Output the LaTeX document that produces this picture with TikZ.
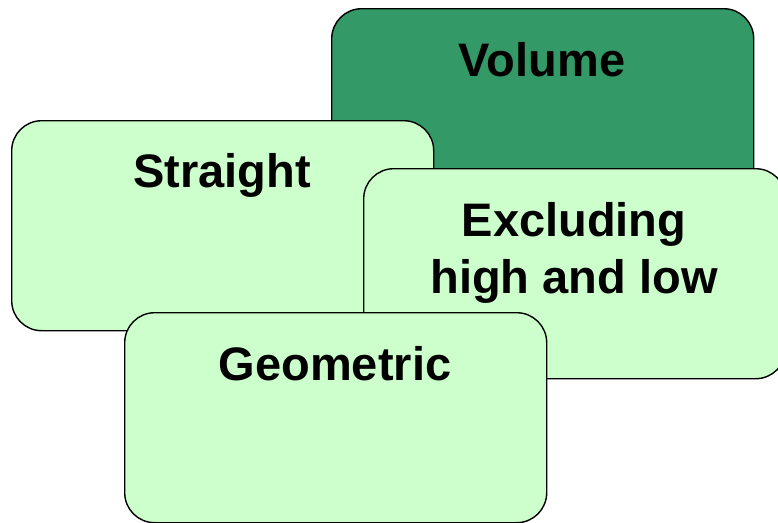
\documentclass[tikz,border=0pt]{standalone}
\usepackage{fontspec}
\setmainfont{Liberation Sans}
\definecolor{darkg}{HTML}{339966}
\definecolor{lightg}{HTML}{CCFFCC}
\begin{document}
\begin{tikzpicture}[x=1pt,y=-1pt,
  card/.style={draw=black, line width=1.4pt, rounded corners=30pt, minimum width=422pt, minimum height=210pt, anchor=north west, inner sep=0pt},
  lbl/.style={font=\bfseries\fontsize{47}{57}\selectfont, anchor=base, align=center, inner sep=0pt}]
\useasboundingbox (0,0) rectangle (778,522);
\clip (0,0) rectangle (778,522);
\node[card, fill=darkg] (vol) at (331,8) {};
\node[lbl] (volt) at (542,76) {Volume};
\node[card, fill=lightg] (str) at (11,120) {};
\node[lbl] (strt) at (222,187) {Straight};
\node[card, fill=lightg] (exc) at (363,168) {};
\node[lbl] (exct1) at (574,236) {Excluding};
\node[lbl] (exct2) at (574,293) {high and low};
\node[card, fill=lightg] (geo) at (124,312) {};
\node[lbl] (geot) at (335,380) {Geometric};
\end{tikzpicture}
\end{document}
